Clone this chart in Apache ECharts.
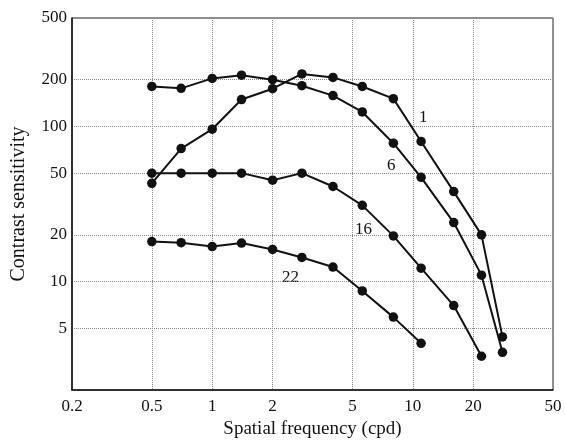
<!DOCTYPE html>
<html>
<head>
<meta charset="utf-8">
<script src="https://cdn.jsdelivr.net/npm/echarts@6/dist/echarts.min.js"></script>
<style>
html,body{margin:0;padding:0;background:#fff;}
#chart{width:565px;height:444px;}
</style>
</head>
<body>
<div id="chart"></div>
<script>
// Spatial frequency (cpd)
const freq = [0.5, 0.7, 1, 1.4, 2, 2.8, 4, 5.6, 8, 11, 16, 22, 28];
// Contrast sensitivity per curve
const curve1 = [43, 72, 96, 149, 175, 218, 207, 181, 151, 80, 38, 20, 4.4];
const curve6 = [181, 176, 204, 214, 200, 183, 158, 124, 78, 47, 24, 11, 3.5];
const curve16 = [50, 50, 50, 50, 45, 50, 41, 31, 19.7, 12.2, 7, 3.3];
const curve22 = [18.1, 17.8, 16.8, 17.7, 16.1, 14.3, 12.4, 8.7, 5.9, 4];
const curveNames = ['1', '6', '16', '22'];
const xTicks = [0.2, 0.5, 1, 2, 5, 10, 20, 50];
const yTicks = [5, 10, 20, 50, 100, 200, 500];

const FONT = 'Liberation Serif';
const pair = (ys) => ys.map((y, i) => [freq[i], y]);
const fmt = (v) => String(+(+v).toPrecision(3));

const chart = echarts.init(document.getElementById('chart'), null, {renderer: 'canvas'});
const mk = (name, ys) => ({
  name: name,
  type: 'line',
  data: pair(ys),
  symbol: 'circle',
  symbolSize: 9.5,
  itemStyle: {color: '#111'},
  lineStyle: {color: '#111', width: 2},
  animation: false,
  z: 3
});

chart.setOption({
  animation: false,
  backgroundColor: '#fff',
  grid: {left: 72, right: 12, top: 18, bottom: 50, show: true, borderColor: '#222', borderWidth: 1, containLabel: false},
  xAxis: {
    type: 'log', logBase: 10, min: 0.2, max: 50,
    name: 'Spatial frequency (cpd)', nameLocation: 'middle', nameGap: 30,
    nameTextStyle: {fontFamily: FONT, fontSize: 19, color: '#111'},
    axisLine: {show: true, lineStyle: {color: '#111', width: 1.5}},
    axisTick: {show: false, customValues: xTicks},
    axisLabel: {customValues: xTicks, formatter: fmt, fontFamily: FONT, fontSize: 17, color: '#111', margin: 8},
    splitLine: {show: true, lineStyle: {type: 'dotted', color: '#888', width: 1}},
    minorSplitLine: {show: false}
  },
  yAxis: {
    type: 'log', logBase: 10, min: 2, max: 500,
    name: 'Contrast sensitivity', nameLocation: 'middle', nameGap: 43, nameRotate: 90,
    nameTextStyle: {fontFamily: FONT, fontSize: 20, color: '#111'},
    axisLine: {show: true, lineStyle: {color: '#111', width: 1.5}},
    axisTick: {show: false, customValues: yTicks},
    axisLabel: {customValues: yTicks, formatter: fmt, fontFamily: FONT, fontSize: 17, color: '#111', margin: 5},
    splitLine: {show: true, lineStyle: {type: 'dotted', color: '#888', width: 1}}
  },
  series: [
    mk(curveNames[0], curve1),
    mk(curveNames[1], curve6),
    mk(curveNames[2], curve16),
    mk(curveNames[3], curve22)
  ],
  graphic: [
    {type: 'text', left: 419, top: 109, style: {text: curveNames[0], font: '17px "Liberation Serif"', fill: '#111'}},
    {type: 'text', left: 387, top: 157, style: {text: curveNames[1], font: '17px "Liberation Serif"', fill: '#111'}},
    {type: 'text', left: 355, top: 221, style: {text: curveNames[2], font: '17px "Liberation Serif"', fill: '#111'}},
    {type: 'text', left: 282, top: 269, style: {text: curveNames[3], font: '17px "Liberation Serif"', fill: '#111'}}
  ]
});
</script>
</body>
</html>
